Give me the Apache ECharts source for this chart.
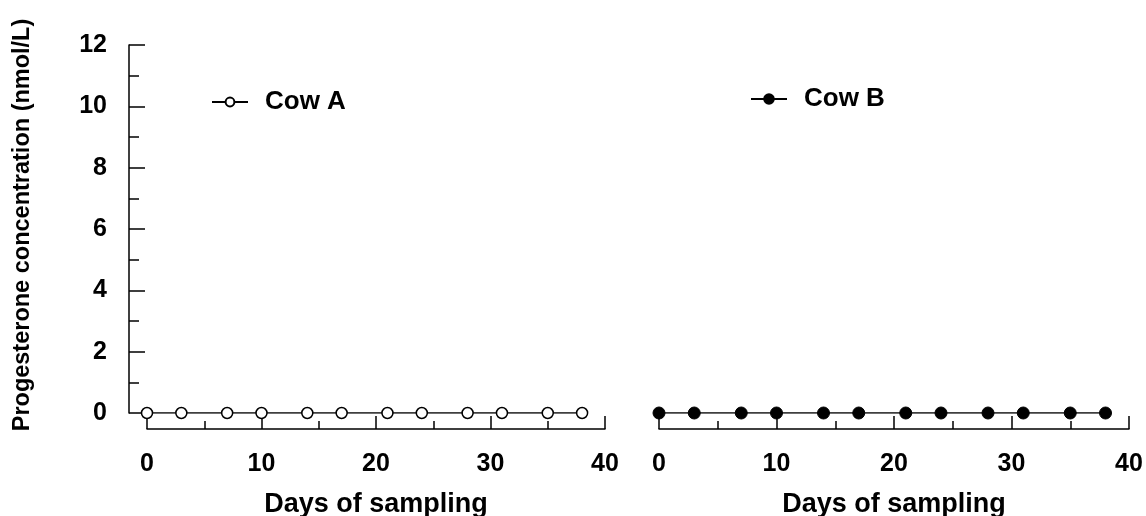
<!DOCTYPE html>
<html>
<head>
<meta charset="utf-8">
<script src="https://cdn.jsdelivr.net/npm/echarts@6/dist/echarts.min.js"></script>
<style>
html,body{margin:0;padding:0;background:#fff;}
#chart{width:1146px;height:516px;}
</style>
</head>
<body>
<div id="chart"></div>
<script>
// ---- data ----
var days = [0, 3, 7, 10, 14, 17, 21, 24, 28, 31, 35, 38];
var cowA = [0, 0, 0, 0, 0, 0, 0, 0, 0, 0, 0, 0];
var cowB = [0, 0, 0, 0, 0, 0, 0, 0, 0, 0, 0, 0];
var seriesNames = ['Cow A', 'Cow B'];
var xAxisTitle = 'Days of sampling';
var yAxisTitle = 'Progesterone concentration (nmol/L)';
var xRange = [0, 40];
var yRange = [0, 12];

var FONT = '"Liberation Sans", Arial, Helvetica, sans-serif';
function pairs(xs, ys) { return xs.map(function (x, i) { return [x, ys[i]]; }); }

var chart = echarts.init(document.getElementById('chart'), null, {renderer: 'canvas'});

function xAxisCfg(gi) {
  return {
    type: 'value', gridIndex: gi, min: xRange[0], max: xRange[1], interval: 10,
    offset: 16, position: 'bottom',
    name: xAxisTitle, nameLocation: 'middle', nameGap: 62,
    nameTextStyle: {fontFamily: FONT, fontWeight: 'bold', fontSize: 27, color: '#000'},
    axisLine: {show: true, onZero: false, lineStyle: {color: '#000', width: 1.5}},
    axisTick: {show: true, inside: true, length: 13, lineStyle: {color: '#000', width: 1.5}},
    minorTick: {show: true, splitNumber: 2, length: 8, lineStyle: {color: '#000', width: 1.5}},
    axisLabel: {fontFamily: FONT, fontWeight: 'bold', fontSize: 25, color: '#000', margin: 23},
    splitLine: {show: false}, minorSplitLine: {show: false}
  };
}

var option = {
  backgroundColor: '#fff',
  animation: false,
  grid: [
    {left: 147, top: 45, width: 458, height: 368, containLabel: false, outerBoundsMode: 'none'},
    {left: 659, top: 45, width: 470, height: 368, containLabel: false, outerBoundsMode: 'none'}
  ],
  legend: [
    {data: [seriesNames[0]], left: 206, top: 84, itemWidth: 36, itemHeight: 11,
     textStyle: {fontFamily: FONT, fontWeight: 'bold', fontSize: 26, color: '#000', padding: [0, 0, 0, 12]}},
    {data: [seriesNames[1]], left: 745, top: 81, itemWidth: 36, itemHeight: 12,
     textStyle: {fontFamily: FONT, fontWeight: 'bold', fontSize: 26, color: '#000', padding: [0, 0, 0, 12]}}
  ],
  xAxis: [xAxisCfg(0), xAxisCfg(1)],
  yAxis: [
    {
      type: 'value', gridIndex: 0, min: yRange[0], max: yRange[1], interval: 2,
      offset: 18, position: 'left',
      name: yAxisTitle, nameLocation: 'middle', nameRotate: 90, nameGap: 94,
      nameTextStyle: {fontFamily: FONT, fontWeight: 'bold', fontSize: 23.5, color: '#000', padding: [0, 0, 0, 8]},
      axisLine: {show: true, onZero: false, lineStyle: {color: '#000', width: 1.5}},
      axisTick: {show: true, inside: true, length: 16, lineStyle: {color: '#000', width: 1.5}},
      minorTick: {show: true, splitNumber: 2, length: 10, lineStyle: {color: '#000', width: 1.5}},
      axisLabel: {fontFamily: FONT, fontWeight: 'bold', fontSize: 25, color: '#000', margin: 22},
      splitLine: {show: false}
    },
    {
      type: 'value', gridIndex: 1, min: yRange[0], max: yRange[1], interval: 2,
      show: false
    }
  ],
  series: [
    {
      name: seriesNames[0], type: 'line', xAxisIndex: 0, yAxisIndex: 0,
      data: pairs(days, cowA),
      symbol: 'circle', symbolSize: 11,
      lineStyle: {color: '#000', width: 1.3},
      itemStyle: {color: '#fff', borderColor: '#000', borderWidth: 1.5},
      emphasis: {disabled: true}
    },
    {
      name: seriesNames[1], type: 'line', xAxisIndex: 1, yAxisIndex: 1,
      data: pairs(days, cowB),
      symbol: 'circle', symbolSize: 12,
      lineStyle: {color: '#000', width: 1.3},
      itemStyle: {color: '#000', borderColor: '#000', borderWidth: 1},
      emphasis: {disabled: true}
    }
  ]
};
chart.setOption(option);
</script>
</body>
</html>
